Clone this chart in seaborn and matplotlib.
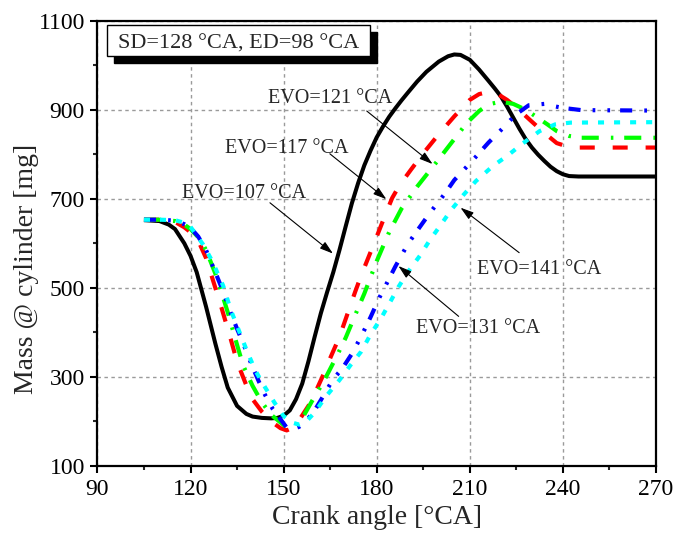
import numpy as np
import pandas as pd
import seaborn as sns
import matplotlib
matplotlib.use("Agg")
import matplotlib.pyplot as plt
from matplotlib.patches import Rectangle
from matplotlib.ticker import MultipleLocator

# ---- data ----
ang_107 = [105,110,113,115,118,120,122,125,128,130,132,135,138,140,143,146,148,150,152,154,
           156,158,160,162,164,166,168,170,172,174,176,178,180,182,184,186,188,190,193,196,
           200,203,205,207,210,213,216,218,220,222,224,226,228,230,232,234,236,238,240,242,
           245,270]
mass_107 = [652,650,642,632,600,572,535,458,375,323,276,235,217,211,208,207,208,213,225,250,
            285,335,390,443,490,535,585,638,690,735,775,808,838,862,884,903,921,938,963,985,
            1008,1020,1024,1023,1012,990,965,948,930,907,882,857,834,815,799,785,772,762,755,751,
            750,750]

ang_117 = [105,110,115,118,120,123,125,128,130,133,135,138,140,143,146,149,151,153,155,158,
           160,163,165,168,170,173,175,178,180,183,185,187,189,191,195,200,205,210,213,216,
           219,222,225,230,234,238,242,245,270]
mass_117 = [653,653,648,636,625,598,567,500,455,384,334,281,250,222,200,185,180,186,203,235,
            262,308,342,390,430,490,528,580,615,668,702,726,746,765,802,845,885,922,935,940,
            935,922,905,873,848,825,816,815,815]

ang_121 = [105,110,115,118,120,123,125,128,130,132,135,137,140,143,146,150,152,154,156,159,
           163,167,170,173,176,180,184,188,193,199,204,209,213,216,220,224,228,231,235,238,
           242,246,270]
mass_121 = [653,653,650,642,632,610,585,532,490,445,372,325,280,243,215,192,183,190,207,244,
            291,345,388,438,487,560,625,678,727,780,825,870,897,912,918,913,900,886,867,852,
            841,837,837]

ang_131 = [105,110,115,118,120,122.5,125,128,130.5,133,135,137,140,142,144,146.5,149,151,153,155,
           157,160,162,164,166,169,172,175,178,181,183,186,190,193,197,202,205,211,216,220,
           223,226,229,234,237,240,246,270]
mass_131 = [653,653,651,643,635,615,585,535,492,443,408,375,322,290,260,228,205,186,183,188,
            199,225,248,272,295,320,352,391,434,480,507,548,598,628,667,712,742,787,826,854,
            876,895,910,913,908,904,899,898]

ang_141 = [105,110,115,118,120,124,127,130.5,133,136.5,138.5,141,144,147,150,153,155,157,160,163.5,
           168,171.5,175,178,181.5,184,187,190,194,197,200.5,204,208,212,217.5,222,227,232.5,237.5,242.5,
           270]
mass_141 = [653,653,652,646,637,598,560,505,450,388,353,313,277,243,212,197,193,198,220,255,
            293,326,357,395,433,464,502,535,573,606,640,675,709,740,774,796,824,852,867,871,
            872]

x_ticks = [90, 120, 150, 180, 210, 240, 270]
y_ticks = [100, 300, 500, 700, 900, 1100]

box_text = "SD=128 \u00b0CA, ED=98 \u00b0CA"
# (label, text x, text baseline y, arrow start, arrow end)
notes = [
    ("EVO=121 \u00b0CA", 144.9, 915, (176.8, 897), (198.0, 778)),
    ("EVO=117 \u00b0CA", 131.1, 803, (164.9, 801), (183.1, 699)),
    ("EVO=107 \u00b0CA", 117.2, 702, (145.6, 691), (165.9, 577)),
    ("EVO=141 \u00b0CA", 212.4, 530, (225.9, 579), (207.0, 680)),
    ("EVO=131 \u00b0CA", 192.8, 398, (206.4, 436), (187.0, 549)),
]

# ---- style ----
sns.set_style("ticks")
plt.rcParams['font.family'] = ['Liberation Serif', 'DejaVu Serif']

fig = plt.figure(figsize=(6.75, 5.41), dpi=100)
ax = fig.add_axes([0.1443, 0.1386, 0.8276, 0.8233])

series = [
    (ang_107, mass_107, 'black', '-', 2.9),
    (ang_117, mass_117, '#ff0000', (0, (3.6, 4.3)), 3.0),
    (ang_121, mass_121, '#00ff00', (0, (4.1, 2.9, 0.6, 2.6)), 3.0),
    (ang_131, mass_131, '#0000ff', (0, (2.9, 2.9, 0.65, 2.9, 0.65, 2.4)), 3.0),
    (ang_141, mass_141, '#00ffff', (0, (1.45, 2.4)), 3.0),
]
for xs, ys, col, ls, lw in series:
    df = pd.DataFrame({'angle': xs, 'mass': ys})
    sns.lineplot(data=df, x='angle', y='mass', color=col, linestyle=ls, lw=lw,
                 ax=ax, sort=False, solid_capstyle='butt', dash_capstyle='butt',
                 solid_joinstyle='round', zorder=3)

ax.set_xlim(90, 270)
ax.set_ylim(100, 1100)
ax.set_xticks(x_ticks)
ax.set_yticks(y_ticks)
ax.xaxis.set_minor_locator(MultipleLocator(15))
ax.yaxis.set_minor_locator(MultipleLocator(100))
ax.tick_params(which='major', direction='out', length=5, width=1.5, labelsize=17, pad=4,
               color='black', labelcolor='black')
ax.tick_params(which='minor', direction='out', length=3, width=1.5)
ax.grid(True, which='major', color='#9a9a9a', linestyle=(0, (2.5, 2.5)), lw=1.0)
for s in ax.spines.values():
    s.set_linewidth(1.6)
    s.set_color('black')
    s.set_zorder(5)

ax.set_xlabel("Crank angle [\u00b0CA]", fontsize=20, labelpad=4)
ax.set_ylabel("Mass @ cylinder [mg]", fontsize=20)
ax.yaxis.set_label_coords(-0.104, 0.442)

# text box with shadow
bx0, bx1, by0, by1 = 0.0166, 0.488, 0.9205, 0.990
sh = Rectangle((bx0 + 0.0125, by0 - 0.0157), bx1 - bx0, by1 - by0, transform=ax.transAxes,
               facecolor='black', edgecolor='black', zorder=6, clip_on=False)
bx = Rectangle((bx0, by0), bx1 - bx0, by1 - by0, transform=ax.transAxes,
               facecolor='white', edgecolor='black', lw=1.0, zorder=7, clip_on=False)
ax.add_patch(sh)
ax.add_patch(bx)
ax.text((bx0 + bx1) / 2, 0.9378, box_text, transform=ax.transAxes, ha='center',
        va='baseline', fontsize=16, zorder=8)

for label, tx, ty, a0, a1 in notes:
    ax.text(tx, ty, label, ha='left', va='baseline', fontsize=14.5, zorder=8)
    ax.annotate('', xy=a1, xytext=a0,
                arrowprops=dict(arrowstyle='-|>,head_length=0.8,head_width=0.25',
                                lw=0.8, color='black', shrinkA=0, shrinkB=0),
                zorder=8)

fig.savefig("out.png", dpi=100)
